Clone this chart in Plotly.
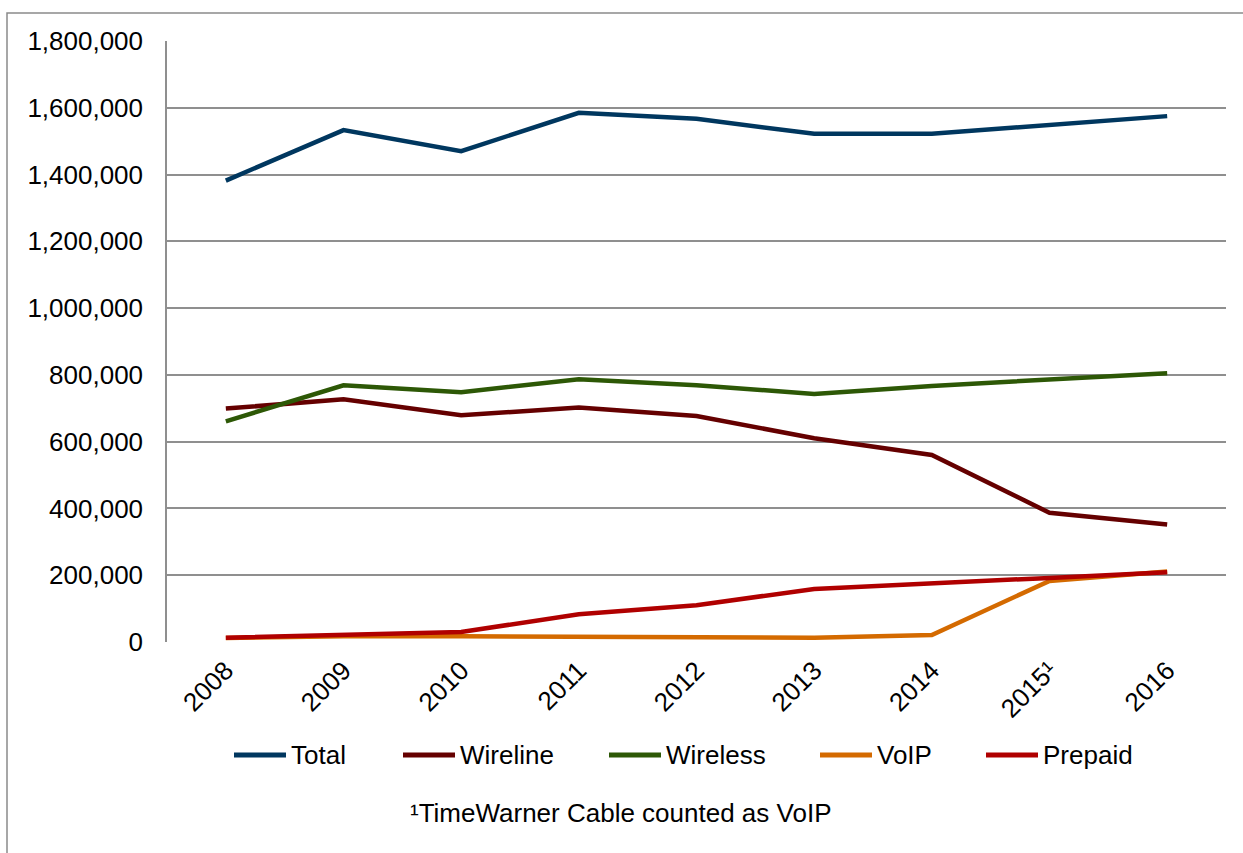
import plotly.graph_objects as go

# Subscriber counts by year
years = ["2008", "2009", "2010", "2011", "2012", "2013", "2014", "2015¹", "2016"]
total = [1382000, 1533000, 1470000, 1585000, 1567000, 1522000, 1522000, 1547000, 1575000]
wireline = [699000, 727000, 679000, 702000, 677000, 610000, 560000, 387000, 352000]
wireless = [661000, 769000, 748000, 787000, 769000, 743000, 767000, 786000, 805000]
voip = [12000, 17000, 17000, 15000, 14000, 13000, 21000, 183000, 211000]
prepaid = [13000, 23000, 30000, 83000, 110000, 159000, 174000, 192000, 209000]

series_names = ["Total", "Wireline", "Wireless", "VoIP", "Prepaid"]
series_values = [total, wireline, wireless, voip, prepaid]
series_colors = ["#00375F", "#650000", "#2D5806", "#D46A00", "#B00000"]

footnote = "¹TimeWarner Cable counted as VoIP"

W, H = 1243, 853
ML, MR, MT, MB = 167, 17, 41, 211
PW, PH = W - ML - MR, H - MT - MB
FONT = "Liberation Sans, Arial, sans-serif"


def px_x(x):
    return (x - ML) / PW


def px_y(y):
    return (H - MB - y) / PH


fig = go.Figure()
for name, vals, col in zip(series_names, series_values, series_colors):
    fig.add_trace(go.Scatter(
        x=list(range(len(years))), y=vals, name=name, mode="lines",
        line=dict(color=col, width=4.5), showlegend=False,
    ))

# Legend drawn as line swatches with labels
legend_x = [232, 401, 607, 818, 984]
legend_y = 755
shapes = []
annotations = []
for name, col, lx in zip(series_names, series_colors, legend_x):
    shapes.append(dict(type="line", xref="paper", yref="paper",
                       x0=px_x(lx + 2), x1=px_x(lx + 54),
                       y0=px_y(legend_y), y1=px_y(legend_y),
                       line=dict(color=col, width=5)))
    annotations.append(dict(xref="paper", yref="paper", x=px_x(lx + 57), y=px_y(legend_y),
                            text=name, showarrow=False, xanchor="left", yanchor="middle",
                            font=dict(family=FONT, size=26, color="#000000")))

annotations.append(dict(xref="paper", yref="paper", x=px_x(620), y=px_y(813),
                        text=footnote, showarrow=False, xanchor="center", yanchor="middle",
                        font=dict(family=FONT, size=26, color="#000000")))

# Outer chart border (left and top edges visible)
shapes.append(dict(type="rect", xref="paper", yref="paper",
                   x0=px_x(7), x1=px_x(1300), y0=px_y(900), y1=px_y(13),
                   line=dict(color="#8A8A8A", width=1.5), layer="below"))

fig.update_layout(
    width=W, height=H,
    margin=dict(l=ML, r=MR, t=MT, b=MB, pad=0),
    paper_bgcolor="white", plot_bgcolor="white",
    font=dict(family=FONT, size=26, color="#000000"),
    shapes=shapes, annotations=annotations,
    xaxis=dict(
        range=[-0.5, len(years) - 0.5],
        tickmode="array", tickvals=list(range(len(years))), ticktext=years,
        tickangle=-45, showgrid=False, zeroline=False,
        showline=False, ticks="", ticklabelstandoff=7,
        tickfont=dict(family=FONT, size=26, color="#000000"),
        fixedrange=True,
    ),
    yaxis=dict(
        range=[0, 1800000], dtick=200000, tickformat=",d",
        showgrid=True, gridcolor="#8F8F8F", gridwidth=1.5,
        zeroline=False, showline=True, linecolor="#8F8F8F", linewidth=1.5,
        ticks="", ticklabelstandoff=17,
        tickfont=dict(family=FONT, size=26, color="#000000"),
        fixedrange=True,
    ),
)

fig.write_html("out.html")
